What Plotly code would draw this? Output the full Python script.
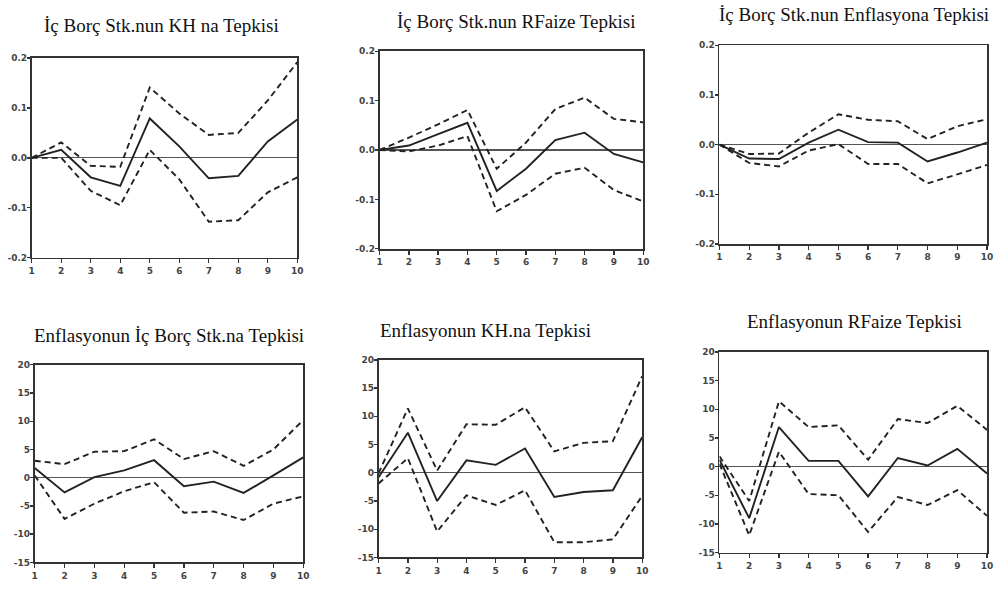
import plotly.graph_objects as go

periods = list(range(1, 11))

titles = [
    "İç Borç Stk.nun KH na Tepkisi",
    "İç Borç Stk.nun RFaize Tepkisi",
    "İç Borç Stk.nun Enflasyona Tepkisi",
    "Enflasyonun İç Borç Stk.na Tepkisi",
    "Enflasyonun KH.na Tepkisi",
    "Enflasyonun RFaize Tepkisi",
]

# Panel 1: İç Borç -> KH
p1_mid = [0.0, 0.016, -0.039, -0.056, 0.079, 0.023, -0.041, -0.036, 0.033, 0.077]
p1_up = [0.0, 0.031, -0.016, -0.018, 0.141, 0.089, 0.046, 0.050, 0.115, 0.192]
p1_lo = [0.0, 0.0, -0.066, -0.095, 0.016, -0.043, -0.128, -0.125, -0.069, -0.039]

# Panel 2: İç Borç -> RFaiz
p2_mid = [0.0, 0.009, 0.032, 0.055, -0.083, -0.038, 0.020, 0.035, -0.008, -0.025]
p2_up = [0.0, 0.025, 0.052, 0.081, -0.038, 0.015, 0.083, 0.106, 0.063, 0.056]
p2_lo = [0.0, -0.003, 0.009, 0.028, -0.124, -0.091, -0.048, -0.036, -0.081, -0.104]

# Panel 3: İç Borç -> Enflasyon
p3_mid = [0.0, -0.028, -0.029, 0.004, 0.030, 0.005, 0.004, -0.034, -0.016, 0.004]
p3_up = [0.0, -0.019, -0.018, 0.024, 0.061, 0.050, 0.047, 0.011, 0.037, 0.051]
p3_lo = [0.0, -0.037, -0.044, -0.012, 0.001, -0.039, -0.039, -0.078, -0.060, -0.041]

# Panel 4: Enflasyon -> İç Borç
p4_mid = [1.7, -2.6, 0.1, 1.3, 3.1, -1.5, -0.7, -2.7, 0.4, 3.6]
p4_up = [3.0, 2.4, 4.6, 4.7, 6.8, 3.3, 4.7, 2.1, 5.0, 10.2]
p4_lo = [0.4, -7.3, -4.6, -2.4, -0.8, -6.2, -6.0, -7.5, -4.6, -3.3]

# Panel 5: Enflasyon -> KH
p5_mid = [-0.8, 7.1, -5.0, 2.2, 1.4, 4.3, -4.3, -3.4, -3.1, 6.3]
p5_up = [-0.1, 11.4, 0.4, 8.6, 8.5, 11.6, 3.8, 5.3, 5.6, 17.1]
p5_lo = [-1.9, 2.6, -10.4, -4.0, -5.7, -3.1, -12.3, -12.3, -11.8, -4.1]

# Panel 6: Enflasyon -> RFaiz
p6_mid = [1.2, -9.0, 6.9, 1.0, 1.0, -5.2, 1.5, 0.2, 3.1, -1.2]
p6_up = [1.8, -6.0, 11.4, 6.9, 7.2, 1.2, 8.3, 7.6, 10.6, 6.4]
p6_lo = [0.5, -12.0, 2.6, -4.8, -5.0, -11.4, -5.3, -6.7, -4.1, -8.6]

small_ticks = [0.2, 0.1, 0.0, -0.1, -0.2]
small_text = ["0.2", "0.1", "0.0", "-0.1", "-0.2"]
big_ticks = [20, 15, 10, 5, 0, -5, -10, -15]
big_text = ["20", "15", "10", "5", "0", "-5", "-10", "-15"]

panels = [
    (p1_mid, p1_up, p1_lo, small_ticks, small_text, [-0.2, 0.2]),
    (p2_mid, p2_up, p2_lo, small_ticks, small_text, [-0.2, 0.2]),
    (p3_mid, p3_up, p3_lo, small_ticks, small_text, [-0.2, 0.2]),
    (p4_mid, p4_up, p4_lo, big_ticks, big_text, [-15, 20]),
    (p5_mid, p5_up, p5_lo, big_ticks, big_text, [-15, 20]),
    (p6_mid, p6_up, p6_lo, big_ticks, big_text, [-15, 20]),
]

W, H = 996, 589
# plot boxes in pixels: (x0, x1, ytop, ybottom)
boxes = [
    (29, 297, 54, 257),
    (380, 646, 47, 248),
    (723, 993, 41, 243),
    (32, 303, 366, 567),
    (379, 645, 361, 562),
    (723, 993, 353, 557),
]
title_pos = [(160, 21), (518, 17), (859, 10), (168, 336), (487, 331), (859, 322)]

ink = "#222222"
fig = go.Figure()
layout = dict(
    width=W, height=H, margin=dict(l=0, r=0, t=0, b=0),
    paper_bgcolor="white", plot_bgcolor="white", showlegend=False,
    annotations=[],
)

for i, (mid, up, lo, tv, tt, rng) in enumerate(panels):
    n = "" if i == 0 else str(i + 1)
    xa, ya = "x" + n, "y" + n
    for ser, dash in ((up, "6px,4px"), (lo, "6px,4px"), (mid, "solid")):
        fig.add_trace(go.Scatter(
            x=periods, y=ser, mode="lines", xaxis=xa, yaxis=ya,
            line=dict(color=ink, width=1.9, dash=dash), hoverinfo="skip",
        ))
    x0, x1, yt, yb = boxes[i]
    axis_common = dict(
        showline=True, linecolor="#333", linewidth=1.8, mirror=True,
        showgrid=False, ticks="outside", tickcolor="#333", tickwidth=1.3,
        tickfont=dict(family="DejaVu Sans", size=9, color="#444", weight="bold"),
    )
    layout["xaxis" + n] = dict(
        domain=[x0 / W, x1 / W], range=[1, 10], anchor=ya,
        tickvals=periods, ticktext=[str(p) for p in periods], ticklen=4,
        zeroline=False, **axis_common,
    )
    layout["yaxis" + n] = dict(
        domain=[1 - yb / H, 1 - yt / H], range=rng, anchor=xa,
        tickvals=tv, ticktext=tt, ticklen=3, ticklabelstandoff=-2,
        zeroline=True, zerolinecolor="#555", zerolinewidth=1.2,
        **axis_common,
    )
    tx, ty = title_pos[i]
    layout["annotations"].append(dict(
        text=titles[i], x=tx / W, y=1 - ty / H,
        xref="paper", yref="paper",
        xanchor="center", yanchor="middle", showarrow=False,
        font=dict(family="Liberation Serif", size=19, color="#111"),
    ))

fig.update_layout(**layout)
fig.write_html(
    "out.html",
    config={"displayModeBar": False, "staticPlot": True},
    post_script="document.body.style.margin='0';document.body.style.overflow='hidden';",
)
